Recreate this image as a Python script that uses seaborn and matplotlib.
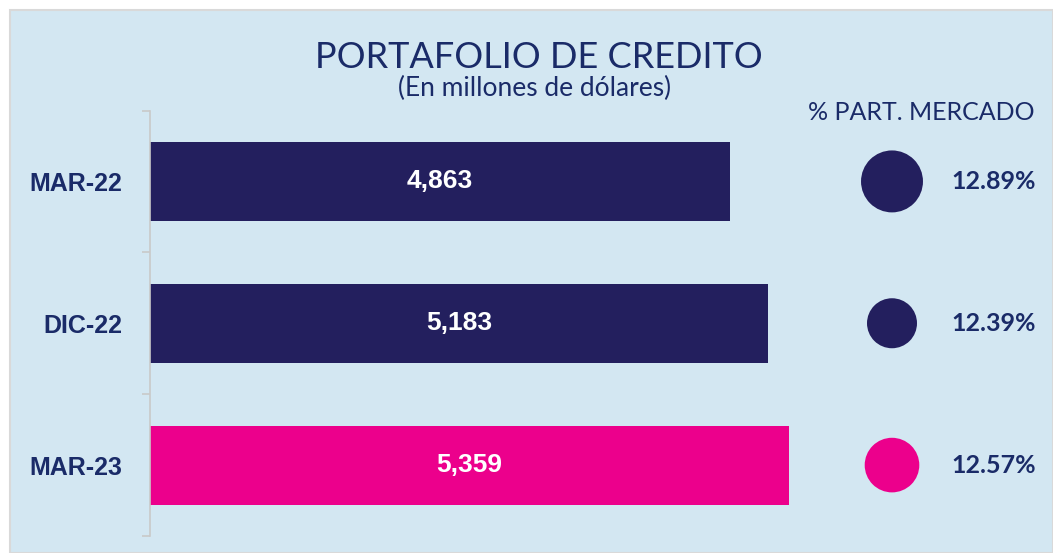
import pandas as pd
import seaborn as sns
import matplotlib.pyplot as plt
import numpy as np
from matplotlib.patches import Rectangle

# datos
periodos = ["MAR-22", "DIC-22", "MAR-23"]
cartera = [4863, 5183, 5359]          # millones de dolares
participacion = [12.89, 12.39, 12.57]  # % part. mercado
colores = ["#231f5e", "#231f5e", "#ec008c"]

fondo = "#d3e7f2"
azul_txt = "#1a2b68"

df = pd.DataFrame({"periodo": periodos, "cartera": cartera, "part": participacion})

sns.set_style("white")
plt.rcParams["font.family"] = ["Liberation Sans", "DejaVu Sans"]

W, H = 1053, 553
fig = plt.figure(figsize=(W / 100, H / 100), dpi=100)
fig.patch.set_facecolor("white")
fig.patches.append(Rectangle((10 / W, 0), 1 - 10 / W, 1 - 10 / H, transform=fig.transFigure,
                             facecolor=fondo, edgecolor="#d9d9d9", linewidth=1.5, zorder=-10))

# barras
ax = fig.add_axes([150 / W, 1 - 536 / H, 650 / W, (536 - 110.5) / H])
ax.set_facecolor("none")
sns.barplot(data=df, y="periodo", x="cartera", hue="periodo", palette=colores, legend=False,
            width=0.556, saturation=1, orient="h", linewidth=0, ax=ax)
ax.set_xlim(0, 650 * 8.385)
ax.set_ylim(2.5, -0.5)
for i, v in enumerate(cartera):
    ax.text(v / 2, i, f"{v:,}", color="white", fontsize=19, fontweight="bold",
            ha="center", va="center")

for s in ["top", "right", "bottom"]:
    ax.spines[s].set_visible(False)
ax.spines["left"].set_color("#c9c9c9")
ax.spines["left"].set_linewidth(1.2)
ax.set_xticks([])
ax.set_xlabel("")
ax.set_ylabel("")
ax.tick_params(axis="y", which="major", left=True, length=0, pad=20, labelsize=18,
               labelcolor=azul_txt)
for lbl in ax.get_yticklabels():
    lbl.set_fontweight("bold")
ax.set_yticks([-0.5, 0.5, 1.5, 2.5], minor=True)
ax.tick_params(axis="y", which="minor", left=True, length=6, color="#c9c9c9", width=1.2)

# burbujas de participacion
ax2 = fig.add_axes([842 / W, 1 - 536 / H, 211 / W, (536 - 110.5) / H])
ax2.set_facecolor("none")
sns.scatterplot(data=df, x=np.zeros(len(df)), y="periodo", hue="periodo", palette=colores,
                size="part", sizes=(1296, 1990), legend=False, linewidth=0, ax=ax2)
ax2.set_xlim(-50, 161)
ax2.set_ylim(2.5, -0.5)
for i, p in enumerate(participacion):
    ax2.text(59, i, f"{p:.2f}%", color=azul_txt, fontsize=18, fontweight="bold",
             family=["Lato", "DejaVu Sans"], ha="left", va="center")
ax2.axis("off")

# titulos
fig.text(539 / W, 1 - 68 / H, "PORTAFOLIO DE CREDITO", family=["Lato", "DejaVu Sans"],
         fontsize=26, color=azul_txt, ha="center", va="baseline")
fig.text(535 / W, 1 - 96 / H, "(En millones de dólares)", family=["Lato", "DejaVu Sans"],
         fontsize=19, color=azul_txt, ha="center", va="baseline")
fig.text(921 / W, 1 - 120 / H, "% PART. MERCADO", family=["Lato", "DejaVu Sans"],
         fontsize=18, color=azul_txt, ha="center", va="baseline")

fig.savefig("out.png", dpi=100)
